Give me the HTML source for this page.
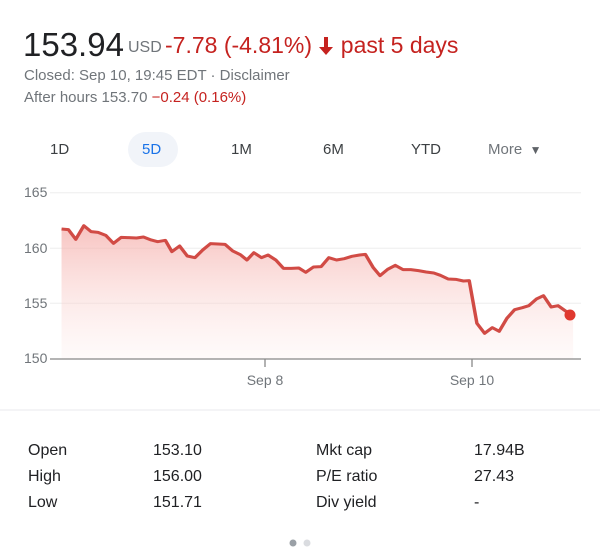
<!DOCTYPE html>
<html><head><style>
body{margin:0;width:600px;height:556px;background:#fff;font-family:"Liberation Sans",sans-serif;position:relative;overflow:hidden}
.a{position:absolute;white-space:nowrap}
.g{color:#70757a}
.r{color:#c5221f}
.t{font-size:16px;color:#202124}
</style></head><body>
<div class="a" style="left:23px;top:26px;font-size:33px;color:#202124">153.94</div>
<div class="a" style="left:128px;top:39px;font-size:16px;color:#70757a">USD</div>
<div class="a r" style="left:165px;top:32px;font-size:23px">-7.78 (-4.81%) <svg width="16" height="18" viewBox="0 0 16 18" style="vertical-align:-2px"><path d="M6 0h4v10h5l-7 8-7-8h5z" fill="#c5221f"/></svg> past 5 days</div>
<div class="a g" style="left:24px;top:67px;font-size:15px">Closed: Sep 10, 19:45 EDT · Disclaimer</div>
<div class="a g" style="left:24px;top:89px;font-size:15px">After hours 153.70 <span class="r">−0.24 (0.16%)</span></div>
<div class="a" style="left:128px;top:132px;width:50px;height:35px;border-radius:18px;background:#f1f4f9"></div>
<div class="a" style="left:50px;top:141px;font-size:15px;color:#3c4043">1D</div>
<div class="a" style="left:142px;top:141px;font-size:15px;color:#1a73e8">5D</div>
<div class="a" style="left:231px;top:141px;font-size:15px;color:#3c4043">1M</div>
<div class="a" style="left:323px;top:141px;font-size:15px;color:#3c4043">6M</div>
<div class="a" style="left:411px;top:141px;font-size:15px;color:#3c4043">YTD</div>
<div class="a" style="left:488px;top:141px;font-size:15px;color:#70757a">More <span style="font-size:12px;color:#5f6368">&nbsp;▼</span></div>
<svg class="a" style="left:0;top:0" width="600" height="556">
<defs><linearGradient id="f" x1="0" y1="0" x2="0" y2="1"><stop offset="0" stop-color="#f4a9a5" stop-opacity=".7"/><stop offset="1" stop-color="#fde8e6" stop-opacity=".2"/></linearGradient></defs>
<g stroke="#eee" stroke-width="1"><line x1="50" y1="192.7" x2="581" y2="192.7"/><line x1="50" y1="248.3" x2="581" y2="248.3"/><line x1="50" y1="303.3" x2="581" y2="303.3"/></g>
<g font-size="14" fill="#70757a"><text x="24" y="197">165</text><text x="24" y="253">160</text><text x="24" y="308">155</text><text x="24" y="363">150</text>
<text x="265" y="385" text-anchor="middle">Sep 8</text><text x="472" y="385" text-anchor="middle">Sep 10</text></g>
<g transform="translate(0,180) scale(0.3846,0.3333)">
<path fill="url(#f)" d="M160,147 L178,149 197,178 218,137 237,155 255,157 275,166 295,190 315,172 335,173 355,174 373,171 393,180 410,185 430,181 447,215 467,198 487,228 507,233 527,210 547,191 567,192 585,193 605,213 625,224 642,240 660,218 680,233 697,225 717,240 737,265 757,265 777,264 795,277 815,261 835,260 855,233 875,240 895,236 915,229 935,225 950,223 970,262 988,287 1008,268 1028,256 1048,269 1068,269 1088,272 1108,276 1128,279 1145,286 1165,297 1185,298 1205,303 1220,302 1240,430 1260,460 1280,443 1298,454 1318,415 1338,389 1358,383 1375,377 1395,357 1413,347 1433,381 1451,377 1473,395 1490,405 L1490,538 L160,538Z"/>
<path fill="none" stroke="#d14b45" stroke-width="9" stroke-linejoin="round" d="M160,147 L178,149 197,178 218,137 237,155 255,157 275,166 295,190 315,172 335,173 355,174 373,171 393,180 410,185 430,181 447,215 467,198 487,228 507,233 527,210 547,191 567,192 585,193 605,213 625,224 642,240 660,218 680,233 697,225 717,240 737,265 757,265 777,264 795,277 815,261 835,260 855,233 875,240 895,236 915,229 935,225 950,223 970,262 988,287 1008,268 1028,256 1048,269 1068,269 1088,272 1108,276 1128,279 1145,286 1165,297 1185,298 1205,303 1220,302 1240,430 1260,460 1280,443 1298,454 1318,415 1338,389 1358,383 1375,377 1395,357 1413,347 1433,381 1451,377 1473,395 1490,405"/>
</g>
<circle cx="570" cy="315" r="5.5" fill="#e0392f"/>
<line x1="50" y1="359" x2="581" y2="359" stroke="#888" stroke-width="1.3"/>
<line x1="265" y1="359" x2="265" y2="367" stroke="#888" stroke-width="1.3"/>
<line x1="472" y1="359" x2="472" y2="367" stroke="#888" stroke-width="1.3"/>
<line x1="0" y1="410" x2="600" y2="410" stroke="#e8eaed" stroke-width="1"/>
<circle cx="293" cy="543" r="3.5" fill="#9aa0a6"/><circle cx="307" cy="543" r="3.5" fill="#dadce0"/>
</svg>
<div class="a t" style="left:28px;top:442px">Open</div><div class="a t" style="left:153px;top:442px">153.10</div>
<div class="a t" style="left:28px;top:468px">High</div><div class="a t" style="left:153px;top:468px">156.00</div>
<div class="a t" style="left:28px;top:494px">Low</div><div class="a t" style="left:153px;top:494px">151.71</div>
<div class="a t" style="left:316px;top:442px">Mkt cap</div><div class="a t" style="left:474px;top:442px">17.94B</div>
<div class="a t" style="left:316px;top:468px">P/E ratio</div><div class="a t" style="left:474px;top:468px">27.43</div>
<div class="a t" style="left:316px;top:494px">Div yield</div><div class="a t" style="left:474px;top:494px">-</div>
</body></html>
